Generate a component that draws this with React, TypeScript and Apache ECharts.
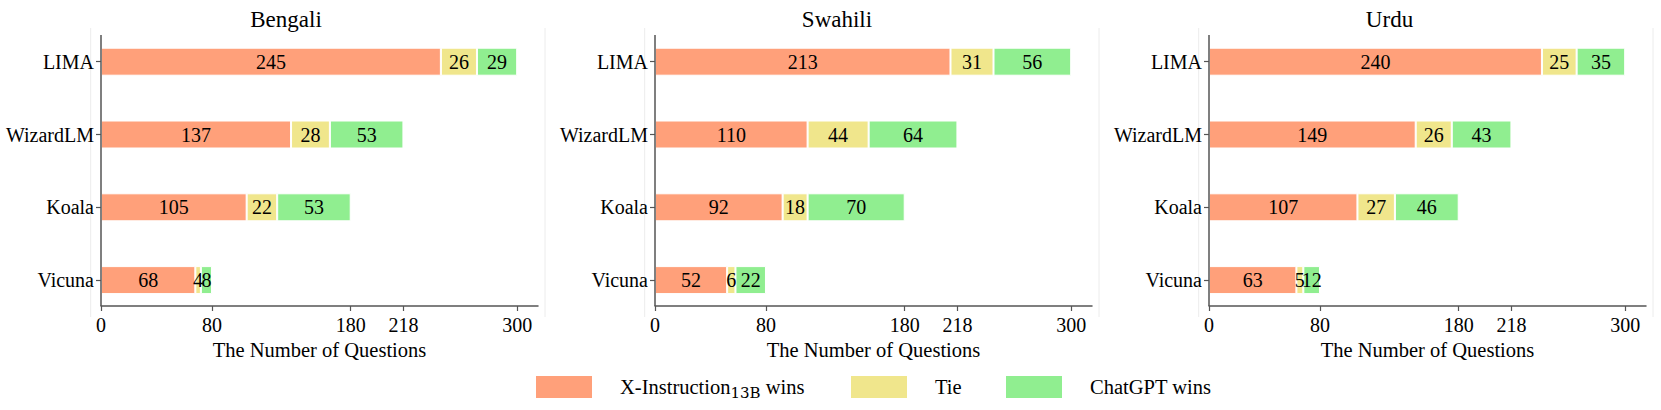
import React, { useEffect, useRef } from "react";
import * as echarts from "echarts";

const categories = ["LIMA", "WizardLM", "Koala", "Vicuna"];
const panels = ["Bengali", "Swahili", "Urdu"];
const seriesNames = ["X-Instruction13B wins", "Tie", "ChatGPT wins"];
const xWins = [
  [245, 137, 105, 68],
  [213, 110, 92, 52],
  [240, 149, 107, 63],
];
const ties = [
  [26, 28, 22, 4],
  [31, 44, 18, 6],
  [25, 26, 27, 5],
];
const gptWins = [
  [29, 53, 53, 8],
  [56, 64, 70, 22],
  [35, 43, 46, 12],
];
const tickValues = [0, 80, 180, 218, 300];

const COLORS = ["#FFA07A", "#F0E68C", "#90EE90"];
const FONT = "Liberation Serif";
const AXIS_COLOR = "#555";

const gridLefts = [101, 655, 1209];
const GRID_W = 437;
const GRID_TOP = 25.3;
const GRID_H = 291.2;
const AXIS_Y = 306;
const titleCenters = [281, 832, 1384.5];
const legendLefts = [534, 849, 1004];

export default function App() {
  const ref = useRef<HTMLDivElement>(null);
  useEffect(() => {
    if (!ref.current) return;
    const chart = echarts.init(ref.current, undefined, { renderer: "svg" });
    const grids: any[] = [];
    const xAxes: any[] = [];
    const yAxes: any[] = [];
    const series: any[] = [];
    const titles: any[] = [];
    const graphics: any[] = [];
    const dataSets = [xWins, ties, gptWins];

    panels.forEach((p, i) => {
      grids.push({ left: gridLefts[i], width: GRID_W, top: GRID_TOP, height: GRID_H });
      xAxes.push({
        type: "value",
        gridIndex: i,
        min: 0,
        max: 315,
        offset: -(GRID_TOP + GRID_H - AXIS_Y),
        axisLine: { show: true, lineStyle: { color: AXIS_COLOR, width: 1.5 } },
        axisTick: { show: true, customValues: tickValues, length: 5, lineStyle: { color: AXIS_COLOR, width: 1.2 } },
        axisLabel: { customValues: tickValues, fontSize: 20, color: "#000", fontFamily: FONT, margin: 9 },
        splitLine: { show: false },
        name: "The Number of Questions",
        nameLocation: "middle",
        nameGap: 33,
        nameTextStyle: { fontSize: 20.5, color: "#000", fontFamily: FONT },
      });
      yAxes.push({
        type: "category",
        gridIndex: i,
        inverse: true,
        data: categories,
        axisLine: { show: false },
        axisTick: { show: true, alignWithLabel: true, length: 5, lineStyle: { color: AXIS_COLOR, width: 1.2 } },
        axisLabel: { fontSize: 20, color: "#000", fontFamily: FONT, margin: 7 },
        splitLine: { show: false },
      });
      seriesNames.forEach((name, k) => {
        series.push({
          type: "bar",
          name,
          stack: "panel" + i,
          xAxisIndex: i,
          yAxisIndex: i,
          barWidth: 28,
          data: dataSets[k][i],
          itemStyle: { color: COLORS[k], borderColor: "#fff", borderWidth: 1 },
          label: {
            show: true,
            position: "inside",
            fontSize: 20,
            color: "#000",
            fontFamily: FONT,
          },
        });
      });
      titles.push({
        text: p,
        left: titleCenters[i],
        top: 3,
        textAlign: "center",
        textStyle: { fontSize: 23, fontWeight: "normal", color: "#000", fontFamily: FONT },
      });
      graphics.push({
        type: "line",
        shape: { x1: gridLefts[i], y1: 35, x2: gridLefts[i], y2: AXIS_Y },
        style: { stroke: AXIS_COLOR, lineWidth: 1.5 },
        z: 10,
      });
      [gridLefts[i] - 10.3, gridLefts[i] + GRID_W + 7].forEach((x) => {
        graphics.push({
          type: "line",
          shape: { x1: x, y1: 28, x2: x, y2: 317 },
          style: { stroke: "#ececec", lineWidth: 1 },
          z: 0,
        });
      });
    });

    const legends = seriesNames.map((name, k) => ({
      data: [name],
      left: legendLefts[k],
      top: 374,
      padding: 0,
      icon: "rect",
      itemWidth: 58,
      itemHeight: 24,
      selectedMode: false,
      formatter: (n: string) =>
        n === "X-Instruction13B wins" ? "{a|X-Instruction}{s|13B}{a| wins}" : "{a|" + n + "}",
      textStyle: {
        padding: [0, 0, 0, 22],
        fontFamily: FONT,
        fontSize: 20.5,
        color: "#000",
        rich: {
          a: { fontSize: 20.5, lineHeight: 26, fontFamily: FONT, color: "#000", verticalAlign: "middle" },
          s: { fontSize: 15, lineHeight: 14, fontFamily: "DejaVu Serif", color: "#000", verticalAlign: "bottom" },
        },
      },
    }));

    chart.setOption({
      animation: false,
      backgroundColor: "#fff",
      textStyle: { fontFamily: FONT },
      title: titles,
      legend: legends,
      grid: grids,
      xAxis: xAxes,
      yAxis: yAxes,
      series,
      graphic: graphics,
    });
    return () => chart.dispose();
  }, []);
  return (
    <div
      ref={ref}
      style={{ position: "fixed", left: 0, top: 0, width: 1661, height: 410 }}
    />
  );
}
